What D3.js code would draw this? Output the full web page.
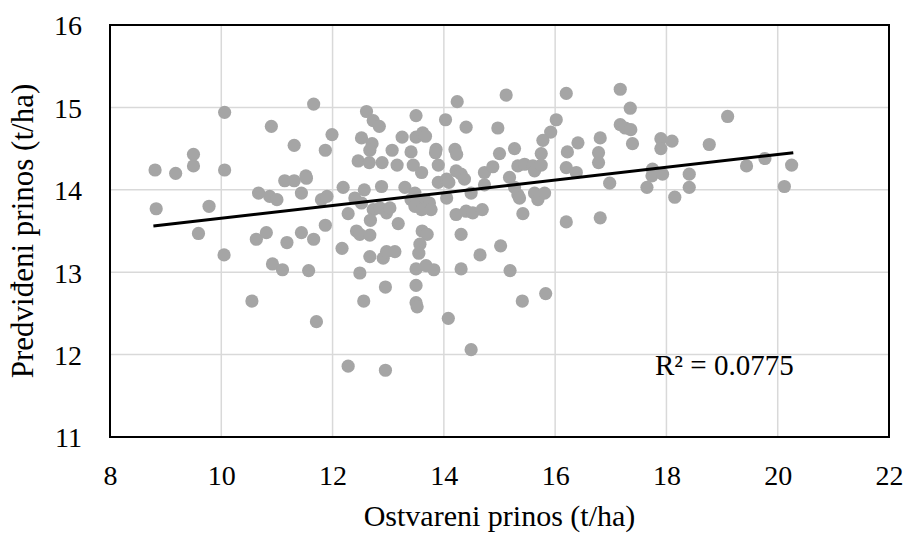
<!DOCTYPE html>
<html>
<head>
<meta charset="utf-8">
<script src="https://cdn.jsdelivr.net/npm/d3@7/dist/d3.min.js"></script>
<style>
  html, body { margin: 0; padding: 0; background: #ffffff; }
  svg { display: block; }
  text { font-family: "Liberation Serif", "Times New Roman", serif; fill: #000; }
</style>
</head>
<body>
<svg id="chart" width="908" height="535"></svg>
<script>
// ---- data ----
const actualYield = [
  10.06, 10.90, 11.31, 9.50, 8.81, 9.18, 9.50, 10.06, 11.14, 11.31, 10.67, 10.87, 11.00, 11.44,
  8.83, 9.78, 9.59, 10.63, 10.81, 11.18, 11.44, 10.05, 10.92, 11.10, 10.55,
  11.66, 14.24, 12.61, 12.73, 12.84, 13.50, 14.03, 14.40, 11.99, 11.87, 12.52, 12.71, 12.67,
  13.25, 13.50, 13.62, 13.67, 13.07, 13.41, 13.86, 13.85, 14.20, 14.23, 12.46, 12.66, 12.89,
  13.16, 13.45, 13.90, 13.60, 14.22, 14.31, 14.37, 14.73, 11.52, 11.53, 13.90, 14.05, 14.09,
  12.19, 12.57, 12.88, 13.30, 11.80, 11.90, 12.40, 12.52, 13.48, 13.41, 13.53, 13.65, 13.74,
  14.05, 14.49, 14.73, 12.73, 12.85, 12.97, 13.03, 13.48, 13.60, 13.77, 12.28, 13.18, 12.68,
  11.87, 14.22, 14.40, 14.52, 14.69, 11.66, 12.43, 12.49, 12.67, 13.61, 13.70, 14.31, 12.17,
  12.67, 12.91, 12.97, 13.12, 13.57, 13.55, 14.65,
  11.57, 12.49, 13.50, 13.68, 13.82, 14.31, 12.95, 13.50, 12.56, 13.50, 13.52, 11.71, 14.08,
  14.49, 12.28, 12.95,
  15.12, 16.20, 17.17, 17.35, 16.02, 15.92, 15.78, 14.97, 17.17, 17.26, 17.36, 17.39, 16.81,
  16.41, 17.90, 18.10, 17.90, 15.27, 15.00, 16.22, 15.75, 16.78, 16.78, 14.88, 15.33, 15.45,
  15.60, 15.63, 15.75, 16.20, 16.38, 15.18, 15.27, 15.33, 15.36, 15.63, 15.69, 15.81, 16.98,
  17.65, 17.75, 17.74, 17.93, 18.15, 15.42, 16.20, 16.81, 15.02,
  15.19, 15.41, 15.83,
  19.10, 18.77, 18.41, 18.41, 19.44, 19.77, 20.25, 20.12
];
const predictedYield = [
  14.94, 14.77, 14.54, 14.43, 14.24, 14.20, 14.29, 14.24, 14.11, 14.11, 13.96, 13.92, 13.88, 13.96,
  13.77, 13.80, 13.47, 13.40, 13.48, 13.36, 13.48, 13.21, 13.10, 13.03, 12.65,
  15.04, 15.07, 14.95, 14.84, 14.77, 14.90, 14.85, 14.76, 14.67, 14.48, 14.63, 14.56, 14.48,
  14.64, 14.64, 14.69, 14.65, 14.48, 14.46, 14.49, 14.45, 14.49, 14.43, 14.35, 14.33, 14.33,
  14.30, 14.30, 14.30, 14.21, 14.23, 14.19, 14.13, 14.21, 14.17, 14.14, 14.09, 14.13, 14.09,
  14.03, 14.00, 14.04, 14.03, 13.88, 13.92, 13.90, 13.84, 13.96, 13.88, 13.86, 13.88, 13.84,
  13.90, 13.96, 14.06, 13.76, 13.78, 13.72, 13.78, 13.80, 13.76, 13.76, 13.71, 13.59, 13.63,
  13.57, 13.70, 13.74, 13.72, 13.76, 13.40, 13.50, 13.46, 13.45, 13.50, 13.46, 13.46, 13.29,
  13.19, 13.17, 13.25, 13.25, 13.34, 13.23, 13.21,
  13.02, 12.99, 13.04, 13.08, 13.03, 13.04, 12.82, 12.84, 12.65, 12.63, 12.58, 12.40, 12.44,
  12.06, 11.86, 11.81,
  15.15, 15.17, 15.22, 14.99, 14.85, 14.70, 14.60, 14.75, 14.79, 14.75, 14.73, 14.56, 14.63,
  14.57, 14.62, 14.59, 14.50, 14.50, 14.44, 14.46, 14.44, 14.45, 14.33, 14.28, 14.29, 14.31,
  14.29, 14.23, 14.30, 14.27, 14.21, 14.15, 14.03, 13.94, 13.90, 13.96, 13.88, 13.96, 14.08,
  14.03, 14.25, 14.17, 14.19, 13.91, 13.71, 13.61, 13.66, 13.32,
  13.02, 12.65, 12.74,
  14.89, 14.55, 14.19, 14.03, 14.29, 14.38, 14.30, 14.04
];
const xTicks = [8, 10, 12, 14, 16, 18, 20, 22];
const yTicks = [11, 12, 13, 14, 15, 16];
const trendRange = [8.78, 20.28];      // x extent of the trend line
const trendCoef = [12.88, 0.0774];     // intercept, slope
const r2Label = ["R² = 0.0775"];
const xTitle = "Ostvareni prinos (t/ha)";
const yTitle = "Predviđeni prinos (t/ha)";

// ---- layout ----
const svg = d3.select("#chart");
const pLeft = 110, pTop = 25, pRight = 889, pBottom = 437;

const x = d3.scaleLinear().domain([8, 22]).range([pLeft, pRight]);
const y = d3.scaleLinear().domain([11, 16]).range([pBottom, pTop]);

// gridlines
const grid = svg.append("g");
grid.selectAll("line.v").data(xTicks.slice(1, -1)).join("line")
  .attr("class", "v")
  .attr("x1", d => x(d)).attr("x2", d => x(d))
  .attr("y1", pTop).attr("y2", pBottom)
  .attr("stroke", "#d9d9d9").attr("stroke-width", 1.5);
grid.selectAll("line.h").data(yTicks.slice(1, -1)).join("line")
  .attr("class", "h")
  .attr("x1", pLeft).attr("x2", pRight)
  .attr("y1", d => y(d)).attr("y2", d => y(d))
  .attr("stroke", "#d9d9d9").attr("stroke-width", 1.5);

// points
const pts = actualYield.map((v, i) => [v, predictedYield[i]]);
svg.append("g").selectAll("circle").data(pts).join("circle")
  .attr("cx", d => x(d[0])).attr("cy", d => y(d[1]))
  .attr("r", 6.6).attr("fill", "#a5a5a5");

// trend line
const trend = trendRange.map(v => [v, trendCoef[0] + trendCoef[1] * v]);
svg.append("path")
  .attr("d", d3.line().x(d => x(d[0])).y(d => y(d[1]))(trend))
  .attr("stroke", "#000").attr("stroke-width", 3).attr("fill", "none");

// plot border
svg.append("rect")
  .attr("x", pLeft).attr("y", pTop)
  .attr("width", pRight - pLeft).attr("height", pBottom - pTop)
  .attr("fill", "none").attr("stroke", "#000").attr("stroke-width", 2);

// axes
const xAxis = svg.append("g").attr("transform", `translate(0,${pBottom})`)
  .call(d3.axisBottom(x).tickValues(xTicks).tickSize(0).tickFormat(d3.format("d")));
xAxis.select(".domain").remove();
xAxis.selectAll("text").attr("y", 48).attr("dy", 0)
  .style("font-family", '"Liberation Serif", serif').style("font-size", "28px").style("fill", "#000");

const yAxis = svg.append("g").attr("transform", `translate(${pLeft},0)`)
  .call(d3.axisLeft(y).tickValues(yTicks).tickSize(0).tickFormat(d3.format("d")));
yAxis.select(".domain").remove();
yAxis.selectAll("text").attr("x", -28).attr("dy", "0.35em")
  .style("font-family", '"Liberation Serif", serif').style("font-size", "28px").style("fill", "#000");

// R² label
svg.append("text").attr("x", 655).attr("y", 375)
  .style("font-size", "29px").text(r2Label[0]);

// titles
svg.append("text").attr("x", (pLeft + pRight) / 2).attr("y", 526)
  .attr("text-anchor", "middle").style("font-size", "30px").text(xTitle);
svg.append("text")
  .attr("transform", `translate(33,${(pTop + pBottom) / 2}) rotate(-90)`)
  .attr("text-anchor", "middle").style("font-size", "31px").text(yTitle);
</script>
</body>
</html>
